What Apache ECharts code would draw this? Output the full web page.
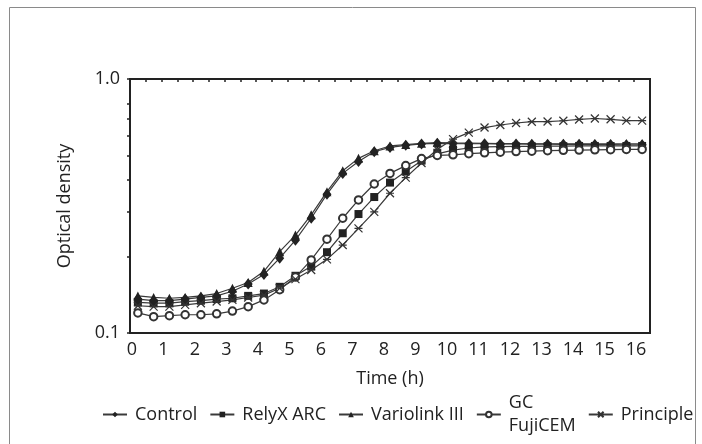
<!DOCTYPE html>
<html>
<head>
<meta charset="utf-8">
<script src="https://cdn.jsdelivr.net/npm/echarts@6/dist/echarts.min.js"></script>
<style>
    html, body { margin: 0; padding: 0; background: #fff; }
    #chart { width: 702px; height: 444px; }
</style>
</head>
<body>
<div id="chart"></div>
<script>
// time points (h), one every half hour
var times = ['0', '0.5', '1', '1.5', '2', '2.5', '3', '3.5', '4', '4.5', '5', '5.5', '6', '6.5', '7', '7.5', '8',
    '8.5', '9', '9.5', '10', '10.5', '11', '11.5', '12', '12.5', '13', '13.5', '14', '14.5', '15', '15.5', '16'];

var control = [0.136, 0.134, 0.134, 0.136, 0.138, 0.140, 0.146, 0.156, 0.170, 0.197, 0.232, 0.283, 0.352, 0.425, 0.473, 0.517, 0.538,
    0.548, 0.555, 0.558, 0.557, 0.556, 0.556, 0.555, 0.555, 0.554, 0.554, 0.553, 0.553, 0.552, 0.552, 0.551, 0.551];
var relyx = [0.132, 0.131, 0.131, 0.133, 0.134, 0.136, 0.137, 0.140, 0.143, 0.152, 0.168, 0.183, 0.208, 0.247, 0.294, 0.343, 0.391,
    0.432, 0.477, 0.507, 0.525, 0.535, 0.540, 0.542, 0.543, 0.543, 0.544, 0.544, 0.545, 0.545, 0.545, 0.545, 0.545];
var variolink = [0.140, 0.138, 0.137, 0.138, 0.140, 0.143, 0.150, 0.158, 0.175, 0.209, 0.243, 0.292, 0.360, 0.435, 0.487, 0.522, 0.545,
    0.552, 0.558, 0.562, 0.560, 0.559, 0.558, 0.557, 0.557, 0.556, 0.556, 0.556, 0.555, 0.555, 0.555, 0.556, 0.556];
var fujicem = [0.120, 0.116, 0.117, 0.118, 0.118, 0.119, 0.122, 0.127, 0.135, 0.148, 0.166, 0.194, 0.234, 0.283, 0.334, 0.386, 0.425,
    0.456, 0.486, 0.500, 0.503, 0.508, 0.512, 0.515, 0.518, 0.520, 0.522, 0.524, 0.525, 0.526, 0.527, 0.528, 0.528];
var principle = [0.128, 0.127, 0.127, 0.129, 0.131, 0.133, 0.135, 0.138, 0.141, 0.150, 0.163, 0.177, 0.195, 0.222, 0.258, 0.300, 0.355,
    0.409, 0.467, 0.528, 0.580, 0.615, 0.644, 0.659, 0.671, 0.679, 0.680, 0.685, 0.693, 0.699, 0.694, 0.686, 0.686];

// minor ticks of the log axis (0.9 is not marked in the original)
var yTicks = [0.1, 0.2, 0.3, 0.4, 0.5, 0.6, 0.7, 0.8, 1.0];

var font = '"Open Sans", "Noto Sans", sans-serif';
var ink = '#222';

function makeSeries(name, data, symbol, size, extra) {
    var s = {
        name: name,
        type: 'line',
        yAxisIndex: 0,
        data: data,
        symbol: symbol,
        symbolSize: size,
        showAllSymbol: true,
        lineStyle: { color: '#3a3a3a', width: 1.2 },
        itemStyle: { color: ink },
        emphasis: { disabled: true }
    };
    if (extra) {
        for (var k in extra) s[k] = extra[k];
    }
    return s;
}

var myChart = echarts.init(document.getElementById('chart'), null, { renderer: 'canvas' });

var option = {
    animation: false,
    backgroundColor: '#fff',
    textStyle: { fontFamily: font, color: ink },
    graphic: [{
        type: 'rect',
        shape: { x: 9.5, y: 7.5, width: 686, height: 460 },
        style: { fill: 'none', stroke: '#8a8a8a', lineWidth: 1 },
        silent: true
    }],
    grid: {
        left: 130, right: 52, top: 79, bottom: 111,
        show: true,
        borderColor: ink,
        borderWidth: 2,
        backgroundColor: 'transparent'
    },
    legend: {
        left: 102,
        top: 382,
        width: 600,
        padding: 0,
        itemGap: 12,
        itemWidth: 24,
        itemHeight: 7,
        textStyle: { fontFamily: font, fontSize: 18, color: ink, lineHeight: 23, padding: [0, 0, 0, 3] },
        data: [
            { name: 'Control' },
            { name: 'RelyX ARC' },
            { name: 'Variolink III' },
            { name: 'GC FujiCEM', textStyle: { padding: [19, 0, 0, 3] } },
            { name: 'Principle' }
        ],
        formatter: function (name) {
            return name === 'GC FujiCEM' ? 'GC\nFujiCEM' : name;
        }
    },
    xAxis: {
        type: 'category',
        data: times,
        boundaryGap: true,
        name: 'Time (h)',
        nameLocation: 'middle',
        nameGap: 37,
        nameTextStyle: { fontSize: 18, color: ink, fontFamily: font },
        axisLine: { lineStyle: { color: ink, width: 2 } },
        axisTick: { show: true, interval: 0, alignWithLabel: false, length: 3, lineStyle: { color: ink, width: 1.5 } },
        axisLabel: { interval: 1, margin: 8, fontSize: 18, color: ink, fontFamily: font, padding: [0, 12, 0, 0] },
        splitLine: { show: false }
    },
    yAxis: [{
        type: 'log',
        logBase: 10,
        min: 0.1,
        max: 1,
        name: 'Optical density',
        nameLocation: 'middle',
        nameGap: 56,
        nameTextStyle: { fontSize: 18, color: ink, fontFamily: font },
        axisLine: { show: true, lineStyle: { color: ink, width: 2 } },
        axisTick: { show: true, length: 3, lineStyle: { color: ink, width: 1.5 } },
        axisLabel: {
            margin: 10, fontSize: 18, color: ink, fontFamily: font,
            formatter: function (v) { return Number(v).toFixed(1); }
        },
        splitLine: { show: false }
    }, {
        // companion axis in log10 units, only used to place the minor ticks
        type: 'value',
        position: 'left',
        min: -1,
        max: 0,
        axisLine: { show: false },
        axisLabel: { show: false },
        splitLine: { show: false },
        axisTick: {
            show: true, length: 3,
            customValues: yTicks.map(function (v) { return Math.log10(v); }),
            lineStyle: { color: ink, width: 1.5 }
        }
    }],
    series: [
        makeSeries('Control', control, 'diamond', [9, 11]),
        makeSeries('RelyX ARC', relyx, 'rect', 8),
        makeSeries('Variolink III', variolink, 'triangle', 9),
        makeSeries('GC FujiCEM', fujicem, 'emptyCircle', 7.5, {
            itemStyle: { color: '#333', borderWidth: 1 }
        }),
        makeSeries('Principle', principle, 'path://M0,0L10,10M0,10L10,0M0,5L10,5', 8, {
            itemStyle: { color: '#333', borderColor: '#333', borderWidth: 1.2 }
        })
    ]
};

myChart.setOption(option);
</script>
</body>
</html>
